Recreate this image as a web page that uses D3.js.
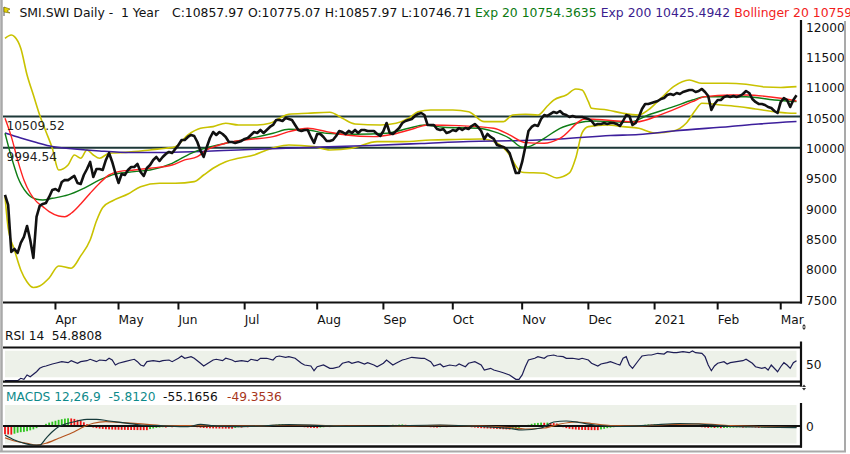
<!DOCTYPE html>
<html>
<head>
<meta charset="utf-8">
<script src="https://cdn.jsdelivr.net/npm/d3@7"></script>
<style>
body{margin:0;background:#ffffff;}
text{font-family:"DejaVu Sans",Verdana,sans-serif;}
</style>
</head>
<body>
<div id="chart"></div>
<script>
// ---- data (x = trading day index, 0 = first bar) ----
let priceTicks = [7500,8000,8500,9000,9500,10000,10500,11000,11500,12000];
let monthLabels = ['Apr','May','Jun','Jul','Aug','Sep','Oct','Nov','Dec','2021','Feb','Mar'];
let monthDays = [16,36,55,76,99,120,142,164,185,206,226,246];
let levelValues = [10509.52, 9994.54];

let closeValues = [
 9215,9050,8276,8325,8259,8424,8523,8704,8473,8177,
 8852,9034,9067,9083,9182,9297,9313,9280,9429,9462,
 9460,9495,9528,9413,9396,9544,9643,9759,9512,9643,
 9643,9627,9792,9907,9759,9577,9413,9561,9544,9627,
 9676,9676,9726,9594,9528,9660,9709,9792,9841,9775,
 9841,9891,9924,9907,9973,10039,10121,10121,10171,10204,
 10187,10088,9940,9841,10006,10154,10253,10204,10253,10220,
 10171,10088,10088,10072,10088,10105,10138,10154,10204,10253,
 10237,10286,10237,10286,10336,10369,10451,10451,10434,10484,
 10467,10451,10369,10286,10270,10286,10286,10171,10072,10220,
 10220,10171,10105,10105,10121,10187,10270,10253,10220,10270,
 10237,10286,10237,10286,10286,10270,10270,10270,10220,10187,
 10270,10401,10237,10220,10270,10319,10401,10434,10451,10467,
 10517,10550,10566,10533,10369,10369,10369,10303,10286,10303,
 10237,10253,10286,10270,10319,10286,10319,10303,10352,10385,
 10336,10270,10138,10220,10171,10138,10039,10022,10006,9973,
 9907,9742,9577,9577,9759,10006,10270,10336,10369,10352,
 10467,10533,10517,10550,10583,10566,10599,10550,10533,10500,
 10517,10500,10500,10500,10484,10467,10434,10369,10385,10385,
 10401,10385,10401,10401,10385,10352,10434,10533,10517,10369,
 10401,10500,10632,10715,10715,10731,10748,10764,10797,10813,
 10863,10879,10863,10896,10879,10912,10929,10945,10945,10912,
 10929,10962,10912,10846,10616,10715,10780,10780,10830,10846,
 10830,10846,10830,10846,10879,10929,10896,10797,10748,10715,
 10715,10698,10665,10649,10599,10566,10748,10813,10780,10665,
 10780,10858
];

let ema20 = [[0,10232],[2,9846],[4,9517],[7,9243],[10,9144],[12,9132],[15,9160],[20,9215],[25,9325],[30,9462],
 [35,9561],[41,9599],[46,9627],[53,9737],[59,9902],[64,9994],[70,10067],[78,10149],[85,10232],[90,10298],
 [96,10286],[102,10232],[111,10215],[121,10232],[128,10314],[133,10369],[139,10331],[150,10314],[155,10258],[160,10149],
 [164,10001],[166,10011],[171,10149],[176,10314],[181,10397],[187,10434],[192,10423],[198,10413],[204,10533],[212,10670],
 [218,10780],[222,10835],[229,10835],[235,10835],[244,10780],[251,10754]];

let ema200 = [[0,10237],[5,10154],[10,10080],[15,10014],[22,9973],[30,9940],[40,9915],[49,9915],[62,9932],[74,9957],
 [87,9981],[100,10006],[116,10031],[132,10064],[147,10097],[164,10113],[176,10138],[192,10195],[201,10212],[212,10270],
 [230,10344],[239,10385],[251,10425]];

let bollMid = [[0,10479],[2,10176],[4,9792],[6,9462],[8,9243],[10,9105],[12,9022],[14,8940],[17,8869],[19,8857],
 [21,8913],[24,9066],[27,9243],[30,9408],[33,9545],[36,9600],[41,9627],[46,9655],[53,9709],[57,9792],
 [61,9846],[64,9957],[70,10067],[78,10133],[85,10176],[90,10258],[96,10314],[102,10258],[108,10204],[117,10176],
 [123,10215],[130,10314],[134,10369],[144,10357],[155,10314],[160,10204],[165,10077],[171,10067],[176,10149],[184,10467],
 [188,10459],[194,10434],[200,10418],[209,10561],[218,10753],[222,10835],[230,10863],[235,10863],[246,10808],[251,10764]];

let bollUpper = [[0,11797],[2,11852],[3,11824],[5,11633],[7,11192],[9,10863],[11,10533],[13,10258],[15,9985],[17,9627],
 [20,9709],[22,9874],[24,9820],[26,9957],[28,9874],[30,9820],[33,9902],[35,9907],[41,9929],[46,9957],
 [51,9985],[54,10011],[58,10204],[62,10314],[66,10341],[70,10396],[74,10369],[80,10369],[84,10396],[87,10479],
 [90,10545],[96,10561],[103,10578],[107,10479],[111,10385],[119,10369],[124,10396],[128,10479],[131,10588],[135,10616],
 [142,10616],[147,10588],[152,10423],[158,10423],[161,10533],[165,10545],[169,10533],[172,10682],[174,10780],[178,10863],
 [181,10962],[183,10945],[185,10752],[186,10644],[191,10616],[196,10561],[201,10533],[204,10616],[208,10808],[212,11000],
 [217,11110],[221,11056],[229,11056],[235,11039],[241,10995],[246,10987],[251,11000]];

let bollLower = [[0,9198],[1,8671],[3,8308],[5,7979],[7,7781],[9,7690],[11,7715],[14,7847],[17,8045],[21,8007],
 [24,8210],[27,8473],[29,8786],[31,9009],[34,9116],[39,9231],[43,9352],[49,9408],[54,9408],[60,9435],
 [63,9544],[66,9655],[70,9764],[74,9820],[79,9874],[83,9957],[86,10006],[90,10039],[98,10011],[103,9957],
 [110,9985],[118,10094],[126,10094],[135,10121],[143,10130],[151,10138],[156,10072],[160,9874],[162,9693],[164,9589],
 [171,9572],[175,9495],[179,9577],[181,9825],[183,10237],[185,10341],[191,10369],[196,10341],[201,10314],[206,10237],
 [212,10270],[216,10396],[219,10616],[221,10726],[227,10698],[233,10670],[238,10632],[244,10588],[248,10566],[251,10561]];

let rsi14 = [[0,24.9],[4,24.9],[5,28.5],[6,27],[7,33.5],[8,30.9],[10,38.4],[11,43.5],[12,45.9],[13,47],
 [15,50],[16,51.1],[18,53.5],[20,52],[21,55],[23,51.1],[24,53.5],[26,55],[27,57.1],[29,53.5],
 [30,56],[32,55],[33,58.6],[34,56],[35,48.5],[36,51.1],[38,53.5],[40,56],[41,57.1],[42,53.5],
 [43,48.5],[44,47],[45,53.5],[47,55],[49,53.5],[50,55],[52,56],[53,53.5],[55,58.6],[56,62],
 [57,58.6],[59,61],[60,58.6],[62,51.1],[63,47],[64,50],[66,56],[67,57.1],[69,55],[70,58.6],
 [72,56],[73,53.5],[75,55],[77,53.5],[78,57.1],[80,55],[81,58.6],[83,58.6],[85,56],[86,61],
 [87,62],[89,60.1],[90,61],[92,58.6],[94,51.1],[95,48.5],[97,47],[98,39.9],[99,45.9],[101,48.5],
 [103,43.5],[104,43.5],[106,45.9],[107,51.1],[109,53.5],[110,51.1],[112,53.5],[114,50],[115,52],[117,48.5],
 [118,45.9],[120,51.1],[121,56],[123,48.5],[124,51.1],[126,56],[127,57.1],[129,60.1],[132,58.6],[133,58.6],
 [135,53.5],[136,47],[138,50],[139,45.9],[141,48.5],[143,47],[144,50],[146,45.9],[147,51.1],[149,53.5],
 [151,48.5],[152,41],[154,43.5],[155,41],[157,38.4],[158,36.9],[160,33.5],[162,27],[163,27],[164,33.5],
 [165,45.9],[166,56],[168,58.6],[169,61],[171,58.6],[172,62],[174,63.5],[175,62],[177,61],[178,58.6],
 [180,58.6],[182,57.1],[183,58.6],[185,56],[186,51.1],[188,47],[189,50],[191,52],[192,53.5],[194,50],
 [195,48.5],[196,58.6],[197,61],[198,48.5],[199,43.5],[201,56],[202,62],[204,63.5],[205,63.5],[207,66.1],
 [209,65],[210,68.5],[212,67],[213,67],[215,68.5],[217,67],[218,69.6],[219,67],[221,66.1],[222,61],
 [223,48.5],[224,39.9],[225,47],[226,51.1],[228,53.5],[229,50],[230,52],[232,53.5],[234,55],[235,57.1],
 [237,51.1],[238,45.9],[240,43.5],[241,45],[242,41],[243,48.5],[245,38.4],[246,45.9],[247,52],[248,48.5],
 [249,43.5],[250,52],[251,54.88]];

let macdLine = [[0,-293],[3,-455],[6,-562],[9,-618],[11,-618],[13,-400],[15,-185],[17,-23],[20,88],[23,163],
 [26,218],[29,218],[33,163],[39,88],[43,33],[49,10],[58,-23],[62,55],[66,10],[72,-23],
 [81,0],[90,49],[100,16],[109,-16],[119,-16],[128,16],[138,33],[151,-16],[160,-81],[164,-130],
 [170,-65],[174,130],[178,163],[182,114],[188,16],[195,-16],[205,33],[214,81],[220,65],[230,-16],
 [239,-33],[251,-55]];

let macdSignal = [[0,-380],[3,-488],[7,-562],[10,-618],[13,-562],[17,-400],[22,-185],[25,-23],[28,88],[32,140],
 [36,120],[41,88],[45,55],[51,10],[62,10],[72,0],[81,6],[90,33],[100,23],[109,-6],
 [119,-13],[128,0],[138,20],[151,0],[160,-49],[165,-98],[171,-65],[176,65],[181,130],[186,81],
 [192,16],[201,6],[211,49],[220,72],[230,16],[239,-16],[251,-49]];

let macdHist = [
 -270,-275,-280,-250,-220,-200,-190,-170,-140,-110,
 -70,-20,30,70,110,140,170,200,220,240,
 250,245,230,200,170,120,60,-30,-50,-70,
 -85,-95,-105,-110,-115,-120,-122,-124,-126,-128,
 -130,-131,-132,-133,-134,-135,-100,-80,-60,-50,
 -40,-50,-30,-40,-20,-30,-10,-20,10,
 0,-20,-40,-55,-65,-70,-75,-78,-80,-82,-84,-85,-86,-87,
 -60,-40,-50,-30,-40,-20,-10,-25,-15,10,0,20,30,
 40,55,60,50,35,20,5,-10,-25,-40,-50,-60,-65,-70,
 -50,-40,-30,-35,-20,-10,0,10,5,15,-5,-15,-10,-25,-20,-30,
 -10,0,10,20,15,25,30,40,35,45,50,40,30,20,10,
 0,-10,-20,-30,-40,-45,-50,-40,-30,-35,-25,-20,-30,-25,-15,
 -20,-30,-40,-50,-60,-70,-75,-80,-85,-90,-95,-100,-105,-110,-115,-100,-80,-60,-30,
 10,40,70,90,100,110,105,110,100,95,80,
 -10,-40,-70,-90,-105,-115,-122,-127,-130,-132,-133,-134,-135,
 -110,-90,-70,-55,-40,-30,-20,-10,0,-5,5,10,
 20,30,40,50,45,55,60,50,40,45,35,30,25,20,15,
 10,0,-10,-20,-30,-40,-50,-60,-55,-65,-60,-70,-65,-60,-55,
 -50,-45,-40,-50,-45,-35,-40,-50,-60,-55,-45,-40,-35,-50,-60,-40,-30,-20,-25,-15,-6
];

// ---- layout ----
let chart_width = 850;
let chart_height = 454;
let axisX = 801;

let svg = d3.select('#chart')
    .append('svg')
    .attr('width',chart_width)
    .attr('height',chart_height);

let xScale = d3.scaleLinear().domain([0,251]).range([5,796.5]);
let yMain = d3.scaleLinear().domain([7500,12000]).range([299,26]);
let yRsi = d3.scaleLinear().domain([30,70]).range([377.3,350.7]);
let yMacd = d3.scaleLinear().domain([-650,650]).range([446,406]);

let defs = svg.append('defs');
clip('clipMain',3,20,axisX-3,282);
clip('clipRsi',3,348,axisX-3,33);
clip('clipMacd',3,404,axisX-3,42);

function clip(id,x,y,w,h){
    defs.append('clipPath').attr('id',id)
        .append('rect').attr('x',x).attr('y',y).attr('width',w).attr('height',h);
}

header();
mainPanel();
rsiPanel();
macdPanel();
frame();

function header(){
    // little flag
    svg.append('line').attr('x1',4).attr('x2',4).attr('y1',7).attr('y2',16)
        .attr('stroke','#555').attr('stroke-width',1);
    svg.append('path').attr('d','M4,7 L10,9 L7,11 L10,13 L4,12 Z')
        .attr('fill','#e6d400').attr('stroke','#6b6300').attr('stroke-width',0.6);

    let parts = [
        {t:'SMI.SWI Daily -  1 Year', x:19.5, c:'#111111'},
        {t:'C:10857.97 O:10775.07 H:10857.97 L:10746.71', x:172, c:'#111111'},
        {t:'Exp 20 10754.3635', x:475, c:'#0b7a12'},
        {t:'Exp 200 10425.4942', x:600.7, c:'#3b1d8e'},
        {t:'Bollinger 20 10759', x:734.3, c:'#f21d1d'}
    ];
    svg.append('g').selectAll('text')
        .data(parts)
        .enter()
        .append('text')
        .text(d=>d.t)
        .attr('x',d=>d.x)
        .attr('y',17)
        .attr('fill',d=>d.c)
        .style('white-space','pre')
        .style('font-size','12.4px');
}

function mainPanel(){
    let g = svg.append('g').attr('clip-path','url(#clipMain)');

    // support / resistance levels
    g.selectAll('.level')
        .data(levelValues)
        .enter()
        .append('line')
        .attr('class','level')
        .attr('x1',3).attr('x2',axisX)
        .attr('y1',d=>yMain(d)).attr('y2',d=>yMain(d))
        .attr('stroke','#1d3838')
        .attr('stroke-width',2);

    let smooth = d3.line()
        .x(d=>xScale(d[0]))
        .y(d=>yMain(d[1]))
        .curve(d3.curveMonotoneX);

    g.append('path').datum(bollUpper).attr('d',smooth)
        .attr('fill','none').attr('stroke','#c9c200').attr('stroke-width',1.6);
    g.append('path').datum(bollLower).attr('d',smooth)
        .attr('fill','none').attr('stroke','#c9c200').attr('stroke-width',1.6);
    g.append('path').datum(ema200).attr('d',smooth)
        .attr('fill','none').attr('stroke','#3d1f9c').attr('stroke-width',1.6);
    g.append('path').datum(ema20).attr('d',smooth)
        .attr('fill','none').attr('stroke','#0f7d16').attr('stroke-width',1.4);
    g.append('path').datum(bollMid).attr('d',smooth)
        .attr('fill','none').attr('stroke','#ff2222').attr('stroke-width',1.4);

    let close_line = d3.line()
        .x((d,i)=>xScale(i))
        .y(d=>yMain(d));

    g.append('path')
        .datum(closeValues)
        .attr('d',close_line)
        .attr('fill','none')
        .attr('stroke','#111111')
        .attr('stroke-width',2.6)
        .attr('stroke-linejoin','round');

    // level labels
    svg.selectAll('.levelText')
        .data(levelValues)
        .enter()
        .append('text')
        .attr('class','levelText')
        .text(d=>d.toFixed(2))
        .attr('x',6.5)
        .attr('y',d=>yMain(d)+13.3)
        .attr('fill','#222222')
        .style('font-size','12.2px');

    // right price axis
    svg.append('line')
        .attr('x1',axisX).attr('x2',axisX).attr('y1',20).attr('y2',303.5)
        .attr('stroke','#111').attr('stroke-width',2.2);
    svg.selectAll('.priceLabel')
        .data(priceTicks)
        .enter()
        .append('text')
        .attr('class','priceLabel')
        .text(d=>d)
        .attr('x',806)
        .attr('y',d=>yMain(d)+5.5)
        .attr('fill','#111')
        .style('font-size','12.2px');

    // time axis
    svg.append('line')
        .attr('x1',3).attr('x2',axisX+1).attr('y1',302.5).attr('y2',302.5)
        .attr('stroke','#111').attr('stroke-width',2.2);
    let ticks = svg.append('g').selectAll('g')
        .data(monthDays)
        .enter()
        .append('g');
    ticks.append('line')
        .attr('x1',d=>xScale(d)).attr('x2',d=>xScale(d))
        .attr('y1',303).attr('y2',309.5)
        .attr('stroke','#111').attr('stroke-width',2);
    ticks.append('text')
        .text((d,i)=>monthLabels[i])
        .attr('x',d=>xScale(d))
        .attr('y',324)
        .attr('fill','#111')
        .style('font-size','12.2px');

    handle(804,327);
}

function handle(x,y){
    svg.append('path')
        .attr('d','M'+x+','+(y-3)+' L'+(x+2)+','+(y-0.5)+' L'+(x-2)+','+(y-0.5)+' Z M'+x+','+(y+3)+' L'+(x+2)+','+(y+0.5)+' L'+(x-2)+','+(y+0.5)+' Z')
        .attr('fill','#333');
}

function rsiPanel(){
    svg.append('text').text('RSI 14').attr('x',5).attr('y',340)
        .attr('fill','#111').style('font-size','12.2px');
    svg.append('text').text('54.8808').attr('x',51.7).attr('y',340)
        .attr('fill','#111').style('font-size','12.2px');

    svg.append('rect')
        .attr('x',5).attr('width',xScale(251)-5)
        .attr('y',yRsi(70)).attr('height',yRsi(30)-yRsi(70))
        .attr('fill','#edf1e9');

    let rsi_line = d3.line()
        .x(d=>xScale(d[0]))
        .y(d=>yRsi(d[1]));
    svg.append('g').attr('clip-path','url(#clipRsi)')
        .append('path')
        .datum(rsi14)
        .attr('d',rsi_line)
        .attr('fill','none')
        .attr('stroke','#1d1d55')
        .attr('stroke-width',1.2);

    svg.append('line').attr('x1',3).attr('x2',axisX+1).attr('y1',347.5).attr('y2',347.5)
        .attr('stroke','#111').attr('stroke-width',2.2);
    svg.append('line').attr('x1',3).attr('x2',axisX+1).attr('y1',381.7).attr('y2',381.7)
        .attr('stroke','#111').attr('stroke-width',2.2);
    svg.append('line').attr('x1',3).attr('x2',axisX+1).attr('y1',385.8).attr('y2',385.8)
        .attr('stroke','#333').attr('stroke-width',1.6);
    svg.append('line').attr('x1',axisX).attr('x2',axisX).attr('y1',341.5).attr('y2',386.5)
        .attr('stroke','#111').attr('stroke-width',2.2);
    svg.append('text').text('50').attr('x',806).attr('y',yRsi(50)+4.5)
        .attr('fill','#111').style('font-size','12.2px');

    handle(804,387.5);
}

function macdPanel(){
    let label = [
        {t:'MACDS 12,26,9  -5.8120', x:6, c:'#0d8a8a'},
        {t:'-55.1656', x:163, c:'#111111'},
        {t:'-49.3536', x:227, c:'#a8361c'}
    ];
    svg.append('g').selectAll('text')
        .data(label)
        .enter()
        .append('text')
        .text(d=>d.t)
        .attr('x',d=>d.x)
        .attr('y',401)
        .attr('fill',d=>d.c)
        .style('white-space','pre')
        .style('font-size','12.2px');

    svg.append('rect')
        .attr('x',5).attr('width',xScale(251)-5)
        .attr('y',405).attr('height',38.5)
        .attr('fill','#edf1e9');

    let g = svg.append('g').attr('clip-path','url(#clipMacd)');

    g.selectAll('.bar')
        .data(macdHist)
        .enter()
        .append('rect')
        .attr('class','bar')
        .attr('x',(d,i)=>xScale(i)-0.9)
        .attr('width',1.8)
        .attr('y',d=>Math.min(yMacd(d),yMacd(0)))
        .attr('height',d=>Math.abs(yMacd(d)-yMacd(0)))
        .attr('fill',(d,i)=>(i>0 && d>=macdHist[i-1]) ? '#2fc41f' : '#f01414');

    g.append('line').attr('x1',3).attr('x2',axisX).attr('y1',yMacd(0)).attr('y2',yMacd(0))
        .attr('stroke','#111').attr('stroke-width',2.2);

    let macd_line = d3.line()
        .x(d=>xScale(d[0]))
        .y(d=>yMacd(d[1]))
        .curve(d3.curveMonotoneX);
    g.append('path').datum(macdSignal).attr('d',macd_line)
        .attr('fill','none').attr('stroke','#b5541f').attr('stroke-width',1.2);
    g.append('path').datum(macdLine).attr('d',macd_line)
        .attr('fill','none').attr('stroke','#163a3a').attr('stroke-width',1.2);

    svg.append('line').attr('x1',3).attr('x2',axisX+1).attr('y1',446.5).attr('y2',446.5)
        .attr('stroke','#111').attr('stroke-width',2.4);
    svg.append('line').attr('x1',axisX).attr('x2',axisX).attr('y1',403).attr('y2',447.5)
        .attr('stroke','#111').attr('stroke-width',2.2);
    svg.append('text').text('0').attr('x',806).attr('y',yMacd(0)+4.5)
        .attr('fill','#111').style('font-size','12.2px');
}

function frame(){
    svg.append('line').attr('x1',1.5).attr('x2',1.5).attr('y1',0).attr('y2',452)
        .attr('stroke','#a9a9a9').attr('stroke-width',2.5);
    svg.append('line').attr('x1',845).attr('x2',845).attr('y1',21).attr('y2',452)
        .attr('stroke','#a9a9a9').attr('stroke-width',2);
    svg.append('line').attr('x1',0).attr('x2',846).attr('y1',451.5).attr('y2',451.5)
        .attr('stroke','#a9a9a9').attr('stroke-width',2);
}
</script>
</body>
</html>
